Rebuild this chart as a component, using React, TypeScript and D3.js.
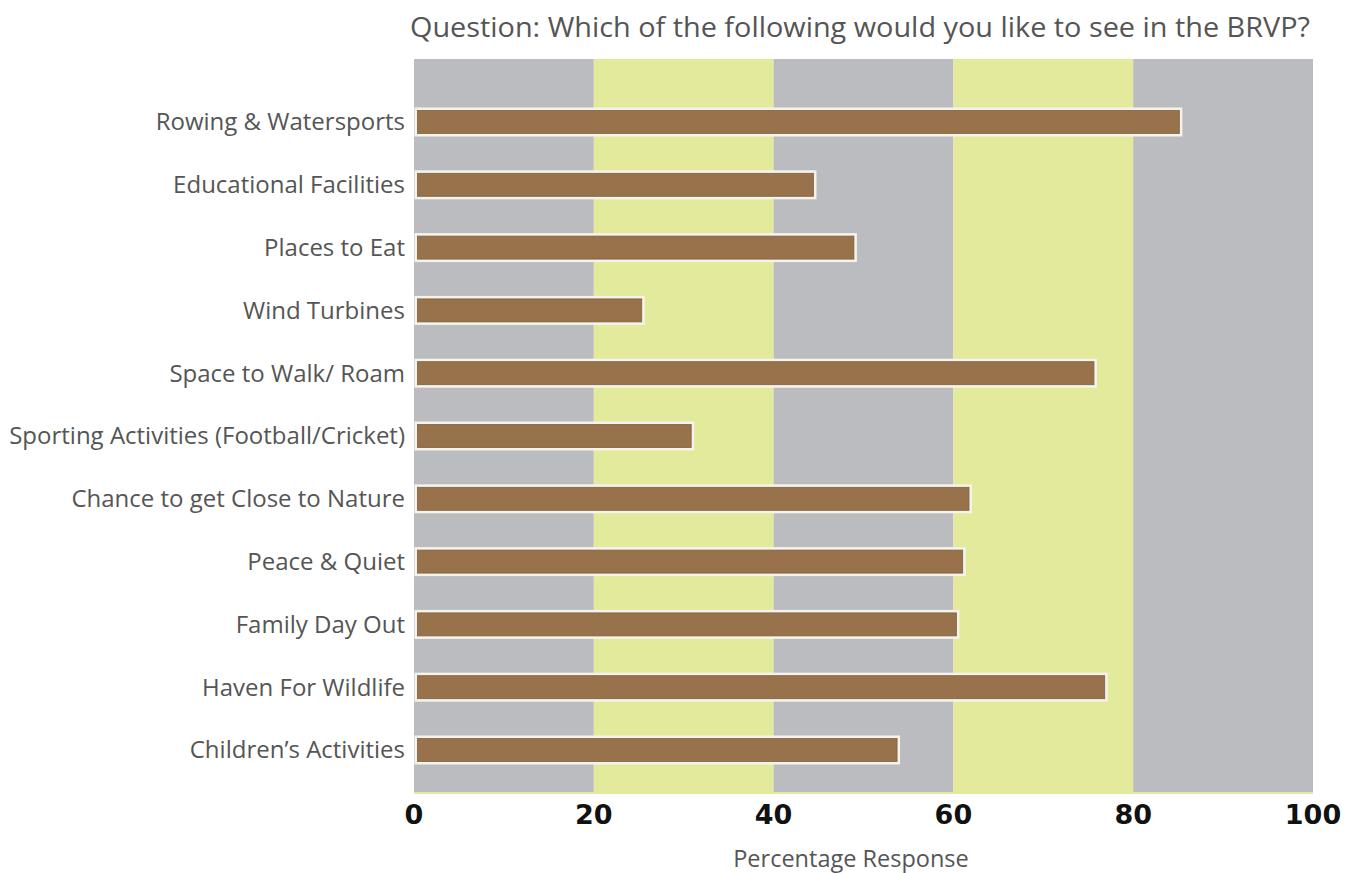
import React from "react";
import * as d3 from "d3";

const categories = [
  "Rowing & Watersports",
  "Educational Facilities",
  "Places to Eat",
  "Wind Turbines",
  "Space to Walk/ Roam",
  "Sporting Activities (Football/Cricket)",
  "Chance to get Close to Nature",
  "Peace & Quiet",
  "Family Day Out",
  "Haven For Wildlife",
  "Children’s Activities",
];
const values = [85.3, 44.6, 49.1, 25.5, 75.8, 31.0, 61.9, 61.2, 60.5, 77.0, 53.9];
const ticks = [0, 20, 40, 60, 80, 100];
const bandStarts = [0, 20, 40, 60, 80];

const W = 1357;
const H = 873;
const left = 414;
const right = 1313;
const top = 59;
const bottom = 792;

const GRAY = "#bbbcc0";
const YELLOW = "#e3ea9c";
const BAR = "#98724a";
const TEXT = "#555555";

export default function App() {
  const x = d3.scaleLinear().domain([0, 100]).range([left, right]);
  const y = d3.scalePoint<string>().domain(categories).range([122, 750]);
  const barH = 26;

  return (
    <svg
      width={W}
      height={H}
      style={{ position: "absolute", left: 0, top: 0, background: "#fff" }}
    >
      {bandStarts.map((s, i) => (
        <rect
          key={s}
          x={x(s)}
          y={top}
          width={x(s + 20) - x(s)}
          height={bottom - top}
          fill={i % 2 === 0 ? GRAY : YELLOW}
        />
      ))}
      <line x1={left} x2={right} y1={bottom + 1} y2={bottom + 1} stroke={YELLOW} strokeWidth={2} />

      {categories.map((c, i) => {
        const cy = y(c)!;
        const x0 = x(0) + 2;
        const w = x(values[i]) - x0;
        return (
          <g key={c}>
            <rect x={x0} y={cy - barH / 2} width={w} height={barH} fill={BAR} stroke="#f6f3ec" strokeWidth={3} />
            <rect x={x0 + 1.5} y={cy - barH / 2 + 1.5} width={w - 3} height={barH - 3} fill="none" stroke="#7f603e" strokeWidth={0.8} />
            <text
              x={405}
              y={cy}
              dy="0.35em"
              textAnchor="end"
              fontFamily="'Open Sans', 'Noto Sans', sans-serif"
              fontSize={24}
              fill={TEXT}
            >
              {c}
            </text>
          </g>
        );
      })}

      {ticks.map((t) => (
        <text
          key={t}
          x={x(t)}
          y={824}
          textAnchor="middle"
          fontFamily="'DejaVu Sans', sans-serif"
          fontWeight="bold"
          fontSize={27}
          fill="#111"
        >
          {t}
        </text>
      ))}

      <text
        x={851}
        y={867}
        textAnchor="middle"
        fontFamily="'Open Sans', 'Noto Sans', sans-serif"
        fontSize={23.5}
        fill={TEXT}
      >
        Percentage Response
      </text>

      <text
        x={410}
        y={37}
        textLength={900}
        lengthAdjust="spacingAndGlyphs"
        fontFamily="'Open Sans', 'Noto Sans', sans-serif"
        fontSize={28}
        fill={TEXT}
      >
        Question: Which of the following would you like to see in the BRVP?
      </text>
    </svg>
  );
}
